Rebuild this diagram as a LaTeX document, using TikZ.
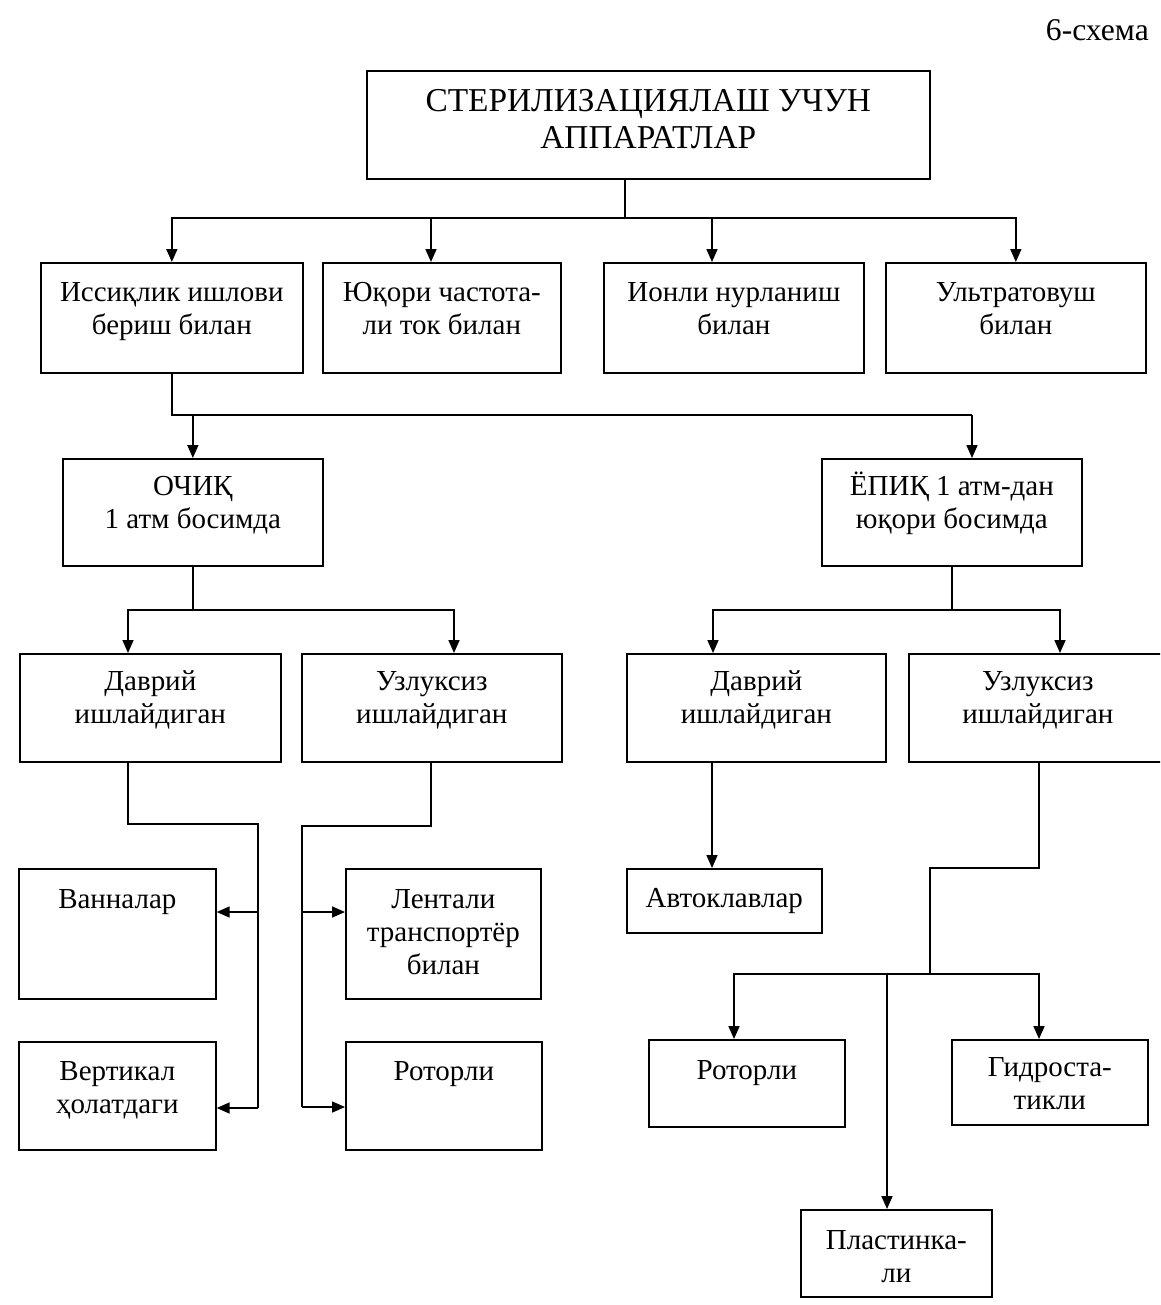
\documentclass[tikz,border=0pt]{standalone}
\usepackage{fontspec}
\setmainfont{Liberation Serif}
\usetikzlibrary{arrows.meta}
\newcommand\boxtext[1]{\begin{tabular}[t]{@{}c@{}}#1\end{tabular}}
\tikzset{
  x=0.02cm, y=-0.02cm,
  box/.style 2 args={draw, line width=1pt, inner xsep=0pt, inner ysep=0pt,
    anchor=north west, minimum width=#1cm, text height=0.78cm, text depth=#2cm,
    font=\fontsize{16.5}{18.8}\selectfont},
  conn/.style={line width=0.95pt},
  arr/.style={conn, -{Triangle[length=0.26cm,width=0.22cm]}},
}
\begin{document}
\begin{tikzpicture}
\useasboundingbox (0,0) rectangle (1160,1305);
\clip (0,0) rectangle (1160,1305);

\node[anchor=base east, font=\fontsize{18}{20}\selectfont] (lbl) at (1155,40) {6-схема};

\node[box={11.26}{1.34}, text height=0.82cm, font=\fontsize{19}{21}\selectfont] (top) at (366,70)
  {\boxtext{СТЕРИЛИЗАЦИЯЛАШ УЧУН\\АППАРАТЛАР}};

\node[box={5.24}{1.42}] (r2a) at (40,262) {\boxtext{Иссиқлик ишлови\\бериш билан}};
\node[box={4.76}{1.42}] (r2b) at (322,262) {\boxtext{Юқори частота-\\ли ток билан}};
\node[box={5.20}{1.42}] (r2c) at (603,262) {\boxtext{Ионли нурланиш\\билан}};
\node[box={5.20}{1.42}] (r2d) at (885,262) {\boxtext{Ультратовуш\\билан}};

\node[box={5.20}{1.40}, text height=0.74cm] (ochiq) at (62,458) {\boxtext{ОЧИҚ\\1 атм босимда}};
\node[box={5.20}{1.40}, text height=0.74cm] (yopiq) at (821,458) {\boxtext{ЁПИҚ 1 атм-дан\\юқори босимда}};

\node[box={5.22}{1.42}, text height=0.74cm] (d1) at (19,653) {\boxtext{Даврий\\ишлайдиган}};
\node[box={5.20}{1.42}, text height=0.74cm] (u1) at (301,653) {\boxtext{Узлуксиз\\ишлайдиган}};
\node[box={5.18}{1.42}, text height=0.74cm] (d2) at (626,653) {\boxtext{Даврий\\ишлайдиган}};
\node[box={5.16}{1.42}, text height=0.74cm] (u2) at (908,653) {\boxtext{Узлуксиз\\ишлайдиган}};

\node[box={3.94}{1.80}, text height=0.80cm] (vann) at (18,868) {\boxtext{Ванналар}};
\node[box={3.90}{1.80}, text height=0.80cm] (lent) at (345,868) {\boxtext{Лентали\\транспортёр\\билан}};
\node[box={3.94}{1.38}] (vert) at (18,1041) {\boxtext{Вертикал\\ҳолатдаги}};
\node[box={3.92}{1.38}] (rot1) at (345,1041) {\boxtext{Роторли}};

\node[box={3.90}{0.50}] (avto) at (626,868) {\boxtext{Автоклавлар}};
\node[box={3.92}{0.94}, text height=0.80cm] (rot2) at (648,1039) {\boxtext{Роторли}};
\node[box={3.92}{0.96}, text height=0.74cm] (gidro) at (951,1039) {\boxtext{Гидроста-\\тикли}};
\node[box={3.82}{0.94}, text height=0.80cm] (plast) at (800,1209) {\boxtext{Пластинка-\\ли}};

% top -> row 2
\coordinate (j0) at (625,218);
\coordinate (a2) at (431,218);
\coordinate (a3) at (712,218);
\draw[conn] (j0 |- top.south) -- (j0);
\draw[arr] (j0) -| (r2a.north);
\draw[arr] (j0) -| (r2d.north);
\draw[arr] (a2) -- (a2 |- r2b.north);
\draw[arr] (a3) -- (a3 |- r2c.north);

% row 2 -> row 3
\coordinate (k2) at (972,415);
\coordinate (k1) at (ochiq.north |- k2);
\draw[conn] (r2a.south) |- (k2);
\draw[arr] (k1) -- (ochiq.north);
\draw[arr] (k2) -- (k2 |- yopiq.north);

% ochiq -> row 4 left
\coordinate (l1) at (128,610);
\coordinate (l2) at (454,610);
\coordinate (l0) at (ochiq.south |- l1);
\draw[conn] (ochiq.south) -- (l0);
\draw[arr] (l0) -| (l1 |- d1.north);
\draw[arr] (l0) -| (l2 |- u1.north);

% yopiq -> row 4 right
\coordinate (r1) at (713,610);
\coordinate (r2) at (1060,610);
\coordinate (r0) at (yopiq.south |- r1);
\draw[conn] (yopiq.south) -- (r0);
\draw[arr] (r0) -| (r1 |- d2.north);
\draw[arr] (r0) -| (r2 |- u2.north);

% d1 -> vann, vert
\coordinate (m1) at (128,824);
\coordinate (m2) at (258,824);
\coordinate (m3) at (258,912);
\coordinate (m4) at (258,1108);
\draw[conn] (m1 |- d1.south) -- (m1) -- (m2) -- (m4);
\draw[arr] (m3) -- (m3 -| vann.east);
\draw[arr] (m4) -- (m4 -| vert.east);

% u1 -> lent, rot1
\coordinate (n1) at (431,826);
\coordinate (n2) at (302,826);
\coordinate (n3) at (302,912);
\coordinate (n4) at (302,1107);
\draw[conn] (n1 |- u1.south) -- (n1) -- (n2) -- (n4);
\draw[arr] (n3) -- (n3 -| lent.west);
\draw[arr] (n4) -- (n4 -| rot1.west);

% d2 -> avto
\coordinate (p1) at (712,800);
\draw[arr] (p1 |- d2.south) -- (p1 |- avto.north);

% u2 -> rot2, gidro, plast
\coordinate (q1) at (1039,868);
\coordinate (q2) at (930,868);
\coordinate (q3) at (930,974);
\coordinate (q4) at (734,974);
\coordinate (q5) at (1039,974);
\coordinate (q6) at (887,974);
\draw[conn] (q1 |- u2.south) -- (q1) -- (q2) -- (q3);
\draw[arr] (q3) -| (q4 |- rot2.north);
\draw[arr] (q3) -| (q5 |- gidro.north);
\draw[arr] (q6) -- (q6 |- plast.north);
\end{tikzpicture}
\end{document}
